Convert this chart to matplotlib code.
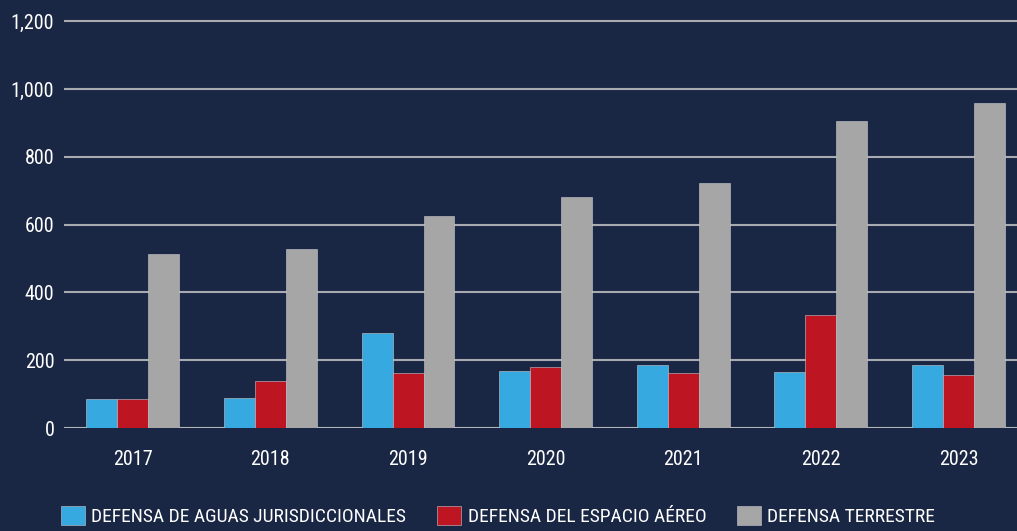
import matplotlib
matplotlib.use("Agg")
import matplotlib.pyplot as plt
import numpy as np
from matplotlib.patches import Patch

years = ["2017", "2018", "2019", "2020", "2021", "2022", "2023"]
aguas = [86, 89, 280, 169, 187, 164, 187]
aereo = [86, 139, 163, 180, 161, 334, 155]
terrestre = [512, 529, 624, 680, 722, 906, 959]
series_names = ["DEFENSA DE AGUAS JURISDICCIONALES", "DEFENSA DEL ESPACIO AÉREO", "DEFENSA TERRESTRE"]
y_ticks = [0, 200, 400, 600, 800, 1000, 1200]

BG = "#1a2744"
colors = ["#36a9e1", "#bd1622", "#a6a6a6"]
plt.rcParams['font.family'] = ['Roboto Condensed', 'DejaVu Sans']

fig = plt.figure(figsize=(10.17, 5.31), dpi=100, facecolor=BG)
ax = fig.add_axes([64 / 1017, 103 / 531, 1 - 64 / 1017, (428 - 14.4) / 531])
ax.set_facecolor(BG)

x = np.arange(len(years))
w = 0.225
for i, (vals, c) in enumerate(zip([aguas, aereo, terrestre], colors)):
    ax.bar(x + (i - 1) * w, vals, w, color=c, edgecolor="#c8c8cc", linewidth=0.4, zorder=3)

ax.set_xlim(-0.5, 6.425)
ax.set_ylim(0, 1220)
ax.set_yticks(y_ticks)
ax.set_yticklabels([f"{v:,}" for v in y_ticks])
ax.set_xticks(x)
ax.set_xticklabels(years)
ax.grid(axis="y", color="#a8aab2", linewidth=1.5, zorder=1)
ax.axhline(0, color="#b4b6bc", linewidth=2, zorder=2)
ax.tick_params(axis="both", length=0, colors="white", labelsize=14.5)
ax.tick_params(axis="y", pad=7)
ax.tick_params(axis="x", pad=16)
for s in ax.spines.values():
    s.set_visible(False)

handles = [Patch(facecolor=c, edgecolor="#c8c8cc", linewidth=0.4) for c in colors]
fig.legend(handles, series_names, loc="center", bbox_to_anchor=(0.49, 0.028), ncol=3,
           frameon=False, fontsize=14, labelcolor="white", handlelength=1.2, handleheight=1.1,
           columnspacing=1.6, handletextpad=0.35)

fig.savefig("out.png", dpi=100, facecolor=BG)
